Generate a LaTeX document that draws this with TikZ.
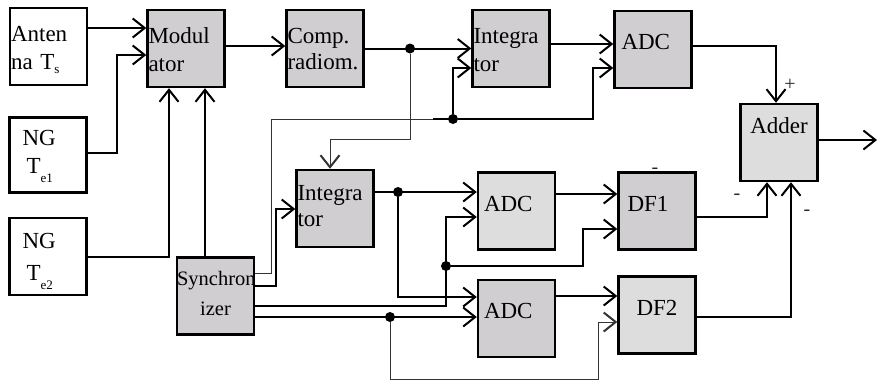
\documentclass[tikz,border=0pt]{standalone}
\usepackage{fontspec}
\setmainfont{Liberation Serif}
\usetikzlibrary{arrows.meta}
\definecolor{boxdark}{RGB}{208,206,208}
\definecolor{boxlight}{RGB}{221,221,221}
\newcommand\lowsub[2]{\raisebox{-#1}{\fontsize{13}{13}\selectfont #2}}
\tikzset{
  blk/.style={draw, line width=2.4pt, fill=boxdark, minimum width=77pt, minimum height=77pt,
    inner sep=1pt, text width=75pt, align=left, text height=16pt, text depth=27pt,
    font=\fontsize{23}{28}\selectfont},
  blkw/.style={blk, fill=white},
  blkl/.style={blk, fill=boxlight},
  oneline/.style={text height=8pt, text depth=8pt},
  conn/.style={line width=2pt, -{Straight Barb[length=12pt,width=19pt]}},
  thinconn/.style={line width=1pt, black!80, -{Straight Barb[length=12pt,width=19pt,line width=2pt]}},
  wire/.style={line width=2pt},
  thinw/.style={line width=1pt, black!80},
  dot/.style={circle, fill, inner sep=0pt, minimum size=10pt},
  sign/.style={font=\fontsize{20}{20}\selectfont, inner sep=0pt, black!85}
}
\begin{document}
\begin{tikzpicture}[x=1pt, y=-1pt]
\useasboundingbox (0,0) rectangle (877,381);
\node[blkw] (ant) at (48.5,46.5) {Anten\\na T\lowsub{4pt}{s}};
\node[blkw, text depth=36pt, minimum height=75pt] (ng1) at (48,155) {\hspace*{12pt}NG\\\hspace*{16pt}T\lowsub{9pt}{e1}};
\node[blkw, text depth=33pt] (ng2) at (48,256.5) {\hspace*{12pt}NG\\[4pt]\hspace*{16pt}T\lowsub{9pt}{e2}};
\node[blk] (mod) at (186,48.5) {Modul\\ator};
\node[blk] (comp) at (325,48.5) {Comp.\\[-2pt]radiom.};
\node[blk] (int1) at (511,48.5) {Integra\\tor};
\node[blk, oneline] (adc1) at (653,49.5) {\hspace*{6pt}ADC};
\node[blkl, oneline, text depth=26pt, align=center] (adder) at (779,142.5) {Adder};
\node[blk, text depth=38pt, inner sep=0pt, text width=77pt, align=center, font=\fontsize{20.5}{30}\selectfont] (sync) at (215.5,296) {Synchron\\izer};
\node[blk, text depth=33pt] (int2) at (335,208.5) {Integra\\[-2pt]tor};
\node[blkl, oneline] (adc2) at (516.5,211) {\hspace*{5pt}ADC};
\node[blk, oneline] (adc3) at (516.5,318.5) {\hspace*{5pt}ADC};
\node[blk, oneline] (df1) at (657,211) {\hspace*{8pt}DF1};
\node[blkl, oneline, align=center] (df2) at (657,315) {DF2};
\node[dot] (d1) at (410,48.5) {};
\node[dot] (d2) at (453,119) {};
\node[dot] (d3) at (446,266) {};
\node[dot] (d4) at (390,317) {};
\node[dot] (d5) at (398,192) {};
\coordinate (out) at (877,140);
\node[sign] (pl) at (790,85) {+};
\node[sign] (m1) at (737,197) {-};
\node[sign] (m2) at (807,213) {-};
\node[sign] (m3) at (655,171) {-};
% modulator inputs
\draw[conn] (ant.east |- 0,28) -- (mod.west |- 0,28);
\draw[conn] (ng1.east |- 0,153) -| (117,55) -- (mod.west |- 0,55);
\draw[conn] (ng2.east) -| (mod.south -| 169,0);
\draw[conn] (sync.north -| 205,0) -- (mod.south -| 205,0);
% upper chain
\draw[conn] (mod.east |- 0,46) -- (comp.west |- 0,46);
\draw[conn] (comp.east) -- (int1.west);
\draw[conn] (int1.east |- 0,44) -- (adc1.west |- 0,44);
\draw[conn] (adc1.east |- 0,46) -| (adder.north -| 776,0);
\draw[conn] (adder.east |- out) -- (out);
\draw[thinconn] (d1) |- (330,139) -- (int2.north -| 330,0);
% synchronizer outputs
\draw[thinw] (sync.east |- 0,273) -| (271,119) -- (d2);
\draw[wire] (d2.center) -- ++(-20,0);
\draw[conn] (d2) |- (int1.west |- 0,68);
\draw[conn] (d2) -- (593,119) |- (adc1.west |- 0,68);
\draw[conn] (sync.east |- 0,286) -| (276,209) -- (int2.west |- 0,209);
\draw[conn] (sync.east |- 0,306) -| (446,217) -- (adc2.west |- 0,217);
\draw[conn] (d3) -| (583,229) -- (df1.west |- 0,229);
\draw[conn] (sync.east |- 0,317) -- (adc3.west |- 0,317);
\draw[thinconn] (d4) |- (598,379) |- (df2.west |- 0,322);
% lower chain
\draw[conn] (int2.east |- 0,192) -- (adc2.west |- 0,192);
\draw[conn] (d5) |- (adc3.west |- 0,297);
\draw[conn] (adc2.east |- 0,194) -- (df1.west |- 0,194);
\draw[conn] (adc3.east |- 0,296) -- (df2.west |- 0,296);
\draw[conn] (df1.east |- 0,217) -| (adder.south -| 767,0);
\draw[conn] (df2.east |- 0,317) -| (adder.south -| 791,0);
\end{tikzpicture}
\end{document}
